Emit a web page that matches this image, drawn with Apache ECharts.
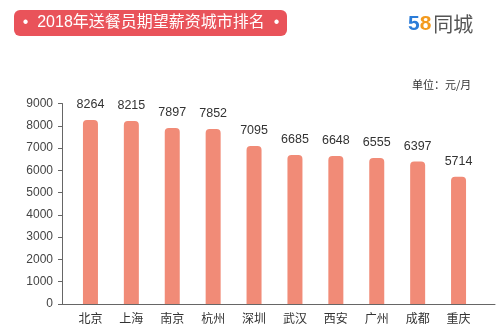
<!DOCTYPE html>
<html>
<head>
<meta charset="utf-8">
<script src="https://cdn.jsdelivr.net/npm/echarts@6/dist/echarts.min.js"></script>
<style>
  html, body { margin: 0; padding: 0; background: #fff; }
  #chart { width: 500px; height: 326px; }
</style>
</head>
<body>
<div id="chart"></div>
<script>
// 2018 delivery-rider expected salary by city (元/月)
var cities = ['北京', '上海', '南京', '杭州', '深圳', '武汉', '西安', '广州', '成都', '重庆'];
var salaries = [8264, 8215, 7897, 7852, 7095, 6685, 6648, 6555, 6397, 5714];
var yMin = 0, yMax = 9000, yStep = 1000;

var FONT = '"Liberation Sans", "Noto Sans CJK SC", sans-serif';
var CJK = '"Noto Sans CJK SC", "Noto Sans", sans-serif';

var chart = echarts.init(document.getElementById('chart'), null, { renderer: 'canvas' });

chart.setOption({
  animation: false,
  backgroundColor: '#ffffff',
  textStyle: { fontFamily: FONT },
  grid: [
    // plotting area for the bars
    { left: 70, right: 21, top: 103.5, bottom: 22 },
    // wider frame used only for the baseline
    { left: 62, right: 5, top: 103.5, bottom: 22 }
  ],
  xAxis: [
    {
      type: 'category',
      gridIndex: 0,
      data: cities,
      axisLine: { show: false },
      axisTick: { show: false },
      axisLabel: { color: '#333', fontSize: 12, margin: 8, fontFamily: CJK }
    },
    {
      type: 'value',
      gridIndex: 1,
      min: 0, max: 1,
      axisLine: { show: true, lineStyle: { color: '#666', width: 1 } },
      axisTick: { show: false },
      axisLabel: { show: false },
      splitLine: { show: false }
    }
  ],
  yAxis: [
    {
      type: 'value',
      gridIndex: 0,
      min: yMin, max: yMax, interval: yStep,
      offset: 8,
      axisLine: { show: true, lineStyle: { color: '#666', width: 1 } },
      axisTick: { show: true, length: 4, lineStyle: { color: '#666' } },
      axisLabel: {
        color: '#444', fontSize: 12, margin: 9, fontFamily: FONT,
        formatter: function (v) { return String(v); }
      },
      splitLine: { show: false }
    },
    {
      type: 'value',
      gridIndex: 1,
      show: false,
      min: 0, max: 1
    }
  ],
  series: [
    {
      type: 'bar',
      xAxisIndex: 0,
      yAxisIndex: 0,
      data: salaries,
      barWidth: 15,
      itemStyle: { color: '#f18b77', borderRadius: [4, 4, 0, 0] },
      label: {
        show: true,
        position: 'top',
        distance: 9,
        color: '#333',
        fontSize: 12.5,
        fontFamily: FONT
      }
    }
  ],
  graphic: [
    {
      type: 'rect',
      shape: { x: 14, y: 10, width: 273, height: 26, r: 6 },
      style: { fill: '#e9535a' }
    },
    {
      type: 'text',
      x: 151, y: 23,
      style: {
        text: '•  2018年送餐员期望薪资城市排名  •',
        fill: '#ffffff',
        font: '16px ' + FONT,
        textAlign: 'center',
        textVerticalAlign: 'middle'
      }
    },
    {
      type: 'text',
      x: 408, y: 24,
      style: {
        text: '{a|5}{b|8}{c|同城}',
        textVerticalAlign: 'middle',
        rich: {
          a: { fill: '#2b7cd8', fontSize: 21, fontWeight: 'bold', fontFamily: FONT },
          b: { fill: '#f39a1e', fontSize: 21, fontWeight: 'bold', fontFamily: FONT },
          c: { fill: '#555555', fontSize: 20, fontFamily: CJK, padding: [0, 0, 0, 2] }
        }
      }
    },
    {
      type: 'text',
      x: 412, y: 85,
      style: {
        text: '单位：元/月',
        fill: '#333',
        font: '11px ' + CJK,
        textVerticalAlign: 'middle'
      }
    }
  ]
});
</script>
</body>
</html>
